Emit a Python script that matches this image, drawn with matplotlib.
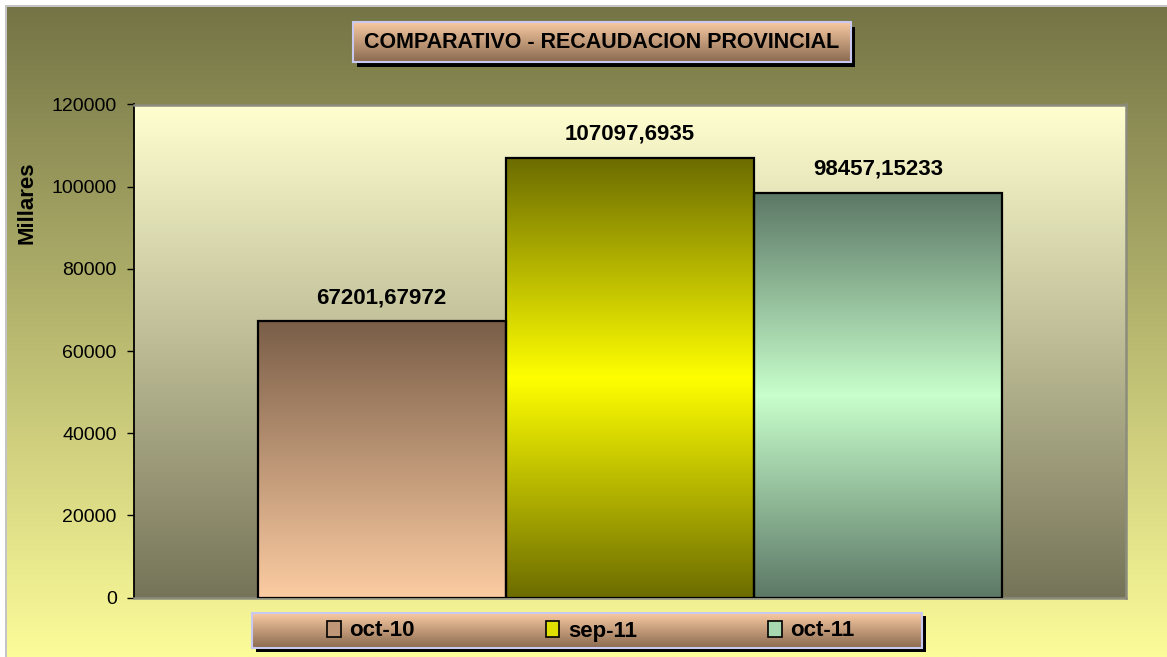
import numpy as np
import matplotlib
matplotlib.use("Agg")
import matplotlib.pyplot as plt
from matplotlib.colors import to_rgb
from matplotlib.patches import Rectangle, Patch

# ---- data ----
series = ["oct-10", "sep-11", "oct-11"]
values = [67201.67972, 107097.6935, 98457.15233]
value_labels = ["67201,67972", "107097,6935", "98457,15233"]
yticks = [0, 20000, 40000, 60000, 80000, 100000, 120000]
title = "COMPARATIVO - RECAUDACION PROVINCIAL"
ylabel = "Millares"

# ---- styles ----
bar_grads = [
    [(0.0, "#7a5e48"), (1.0, "#fccca2")],
    [(0.0, "#6c6c00"), (0.5, "#ffff00"), (1.0, "#6c6c00")],
    [(0.0, "#5c7866"), (0.5, "#c8ffcc"), (1.0, "#5c7866")],
]
bar_mid = ["#c09878", "#e0e000", "#a8d8b0"]

plt.rcParams['font.family'] = ['Liberation Sans', 'DejaVu Sans']

W, H, DPI = 1167, 657, 100
fig = plt.figure(figsize=(W / DPI, H / DPI), dpi=DPI)
fig.patch.set_facecolor("white")


def px(x0, y0, x1, y1):
    return [x0 / W, 1 - y1 / H, (x1 - x0) / W, (y1 - y0) / H]


def vgrad(stops, n=256):
    pos = np.linspace(0, 1, n)
    ps = [s[0] for s in stops]
    cols = np.array([to_rgb(s[1]) for s in stops])
    arr = np.stack([np.interp(pos, ps, cols[:, k]) for k in range(3)], axis=-1)
    return arr[:, None, :]


def grad_axes(rect, stops, z=0):
    a = fig.add_axes(rect, zorder=z)
    a.imshow(vgrad(stops), aspect="auto", extent=[0, 1, 0, 1], interpolation="bilinear")
    a.set_xlim(0, 1); a.set_ylim(0, 1)
    a.axis("off")
    return a

# figure border + background gradient
fig.patches.append(Rectangle((5 / W, 0), 1, 1 - 5 / H, transform=fig.transFigure,
                             facecolor="#c4c4c4", edgecolor="none", zorder=-5))
grad_axes(px(7, 7, W, H), [(0.0, "#747446"), (1.0, "#fcfc9a")], z=-4)

# title box with shadow
fig.patches.append(Rectangle((357 / W, 1 - 67 / H), 498 / W, 40 / H, transform=fig.transFigure,
                             facecolor="black", edgecolor="none", zorder=1))
tb = grad_axes(px(353, 22, 851, 62), [(0.0, "#f8caa2"), (1.0, "#8a6a50")], z=2)
tb.add_patch(Rectangle((0, 0), 1, 1, transform=tb.transAxes, fill=False,
                       edgecolor="#c8c8f0", lw=1.5, clip_on=False))
fig.text(602 / W, 1 - 43 / H, title, ha="center", va="center", fontsize=15.5,
         fontweight="bold", zorder=5)

# legend box with shadow
fig.patches.append(Rectangle((256 / W, 1 - 652 / H), 670 / W, 36 / H, transform=fig.transFigure,
                             facecolor="black", edgecolor="none", zorder=1))
lb = grad_axes(px(252, 613, 922, 648), [(0.0, "#f8caa2"), (1.0, "#8a6a50")], z=2)
lb.add_patch(Rectangle((0, 0), 1, 1, transform=lb.transAxes, fill=False,
                       edgecolor="#c8c8f0", lw=1.5, clip_on=False))

# main plot
ax = fig.add_axes(px(133.5, 104.5, 1126, 597.5), zorder=1)
ax.set_facecolor("none")
ax.imshow(vgrad([(0.0, "#ffffd0"), (1.0, "#767458")]), aspect="auto",
          extent=[0, 1, 0, 1], transform=ax.transAxes, zorder=0, interpolation="bilinear")

x = np.arange(len(series)) - (len(series) - 1) / 2
bars = ax.bar(x, values, width=1.0, color=bar_mid, edgecolor="none", zorder=2)
for b, st in zip(bars, bar_grads):
    im = ax.imshow(vgrad(st), aspect="auto", interpolation="bilinear",
                   extent=[b.get_x(), b.get_x() + b.get_width(), 0, b.get_height()], zorder=2.5)
    im.set_clip_path(b)
ax.bar(x, values, width=1.0, fill=False, edgecolor="black", linewidth=1.6, zorder=3)

for b, lab in zip(bars, value_labels):
    ax.annotate(lab, (b.get_x() + b.get_width() / 2, b.get_height()), xytext=(0, 13),
                textcoords="offset points", ha="center", va="baseline",
                fontsize=16, fontweight="bold", zorder=4)

ax.set_xlim(-2, 2)
ax.set_ylim(0, 120000)
ax.set_yticks(yticks)
ax.set_yticklabels([str(t) for t in yticks])
ax.set_xticks([])
ax.tick_params(axis="y", direction="out", length=5, width=1, labelsize=14, pad=7)
ax.spines["left"].set_color("black"); ax.spines["left"].set_linewidth(1.3)
for s in ["top", "right", "bottom"]:
    ax.spines[s].set_color("#8c8c7c"); ax.spines[s].set_linewidth(1.8)

fig.text(27 / W, 1 - 203 / H, ylabel, rotation=90, ha="center", va="center",
         fontsize=16, fontweight="bold")

handles = [Patch(facecolor=c, edgecolor="black", linewidth=1.2) for c in bar_mid]
leg = fig.legend(handles, series, loc="center", bbox_to_anchor=(591 / W, 1 - 631 / H),
                 ncol=3, frameon=False, prop={"size": 16, "weight": "bold"},
                 columnspacing=5.9, handlelength=0.6, handleheight=0.7, handletextpad=0.4)
leg.set_zorder(6)

fig.savefig("out.png", dpi=DPI)
